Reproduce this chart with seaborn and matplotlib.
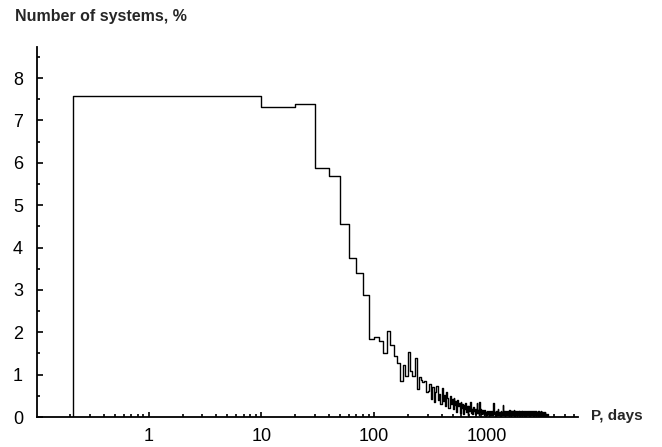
import numpy as np
import matplotlib
matplotlib.use("Agg")
import matplotlib.pyplot as plt
import seaborn as sns
from matplotlib.ticker import FixedLocator, LogLocator, NullFormatter

sns.set_style("ticks")
plt.rcParams['font.family'] = ['Liberation Sans', 'DejaVu Sans']

# histogram of orbital periods, 10-day bins (first bin starts at the left edge)
first_edge = 0.215
bin_width = 10

# percent of systems per bin, 0-300 days
pct_short = [7.57, 7.32, 7.39, 5.88, 5.69, 4.56, 3.75, 3.39, 2.89, 1.84,
             1.90, 1.79, 1.52, 2.02, 1.69, 1.45, 1.27, 0.85, 1.22, 0.96,
             1.53, 1.08, 0.97, 1.39, 0.66, 0.94, 0.88, 0.82, 0.84, 0.60]
# 300-1000 days
pct_mid = [0.62, 0.78, 0.42, 0.70, 0.36, 0.58, 0.72, 0.40, 0.55, 0.30,
           0.68, 0.38, 0.52, 0.25, 0.60, 0.45, 0.22, 0.50, 0.30, 0.42,
           0.20, 0.45, 0.28, 0.38, 0.12, 0.40, 0.25, 0.33, 0.10, 0.35,
           0.22, 0.30, 0.08, 0.28, 0.18, 0.32, 0.12, 0.25, 0.05, 0.27,
           0.15, 0.22, 0.35, 0.10, 0.20, 0.06, 0.24, 0.14, 0.18, 0.08,
           0.20, 0.12, 0.33, 0.10, 0.16, 0.05, 0.35, 0.12, 0.18, 0.08,
           0.15, 0.06, 0.17, 0.10, 0.14, 0.04, 0.16, 0.09, 0.12, 0.05]
# 1000-3500 days
pct_long = [0.12, 0.04, 0.15, 0.06, 0.10, 0.03, 0.14, 0.05, 0.11, 0.04,
            0.13, 0.06, 0.10, 0.04, 0.16, 0.33, 0.08, 0.12, 0.05, 0.10,
            0.03, 0.14, 0.06, 0.11, 0.04, 0.13, 0.20, 0.05, 0.09, 0.04,
            0.12, 0.05, 0.10, 0.03, 0.13, 0.06, 0.11, 0.04, 0.09, 0.28,
            0.10, 0.04, 0.14, 0.06, 0.12, 0.03, 0.15, 0.05, 0.10, 0.04,
            0.13, 0.06, 0.15, 0.04, 0.12, 0.05, 0.14, 0.03, 0.11, 0.06,
            0.16, 0.04, 0.12, 0.05, 0.13, 0.03, 0.15, 0.06, 0.11, 0.04,
            0.14, 0.05, 0.12, 0.04, 0.16, 0.06, 0.13, 0.03, 0.12, 0.05,
            0.15, 0.04, 0.13, 0.06, 0.11, 0.03, 0.14, 0.05, 0.12, 0.04,
            0.13, 0.05, 0.15, 0.04, 0.12, 0.06, 0.14, 0.03, 0.11, 0.05,
            0.12, 0.04, 0.14, 0.05, 0.13, 0.03, 0.12, 0.06, 0.15, 0.04,
            0.13, 0.05, 0.11, 0.04, 0.14, 0.06, 0.12, 0.03, 0.13, 0.05,
            0.14, 0.04, 0.12, 0.05, 0.11, 0.03, 0.13, 0.06, 0.12, 0.04,
            0.12, 0.05, 0.14, 0.04, 0.13, 0.05, 0.11, 0.03, 0.12, 0.06,
            0.13, 0.04, 0.12, 0.05, 0.14, 0.03, 0.11, 0.06, 0.13, 0.04,
            0.12, 0.05, 0.13, 0.04, 0.11, 0.06, 0.12, 0.03, 0.14, 0.05,
            0.11, 0.04, 0.13, 0.05, 0.12, 0.03, 0.11, 0.06, 0.12, 0.04,
            0.13, 0.05, 0.11, 0.04, 0.12, 0.05, 0.13, 0.03, 0.11, 0.05,
            0.12, 0.04, 0.12, 0.06, 0.11, 0.03, 0.12, 0.05, 0.13, 0.04,
            0.11, 0.05, 0.12, 0.04, 0.13, 0.03, 0.11, 0.05, 0.12, 0.04,
            0.12, 0.04, 0.11, 0.05, 0.12, 0.03, 0.13, 0.04, 0.11, 0.05,
            0.10, 0.04, 0.12, 0.03, 0.11, 0.05, 0.10, 0.04, 0.12, 0.03,
            0.11, 0.04, 0.10, 0.05, 0.12, 0.03, 0.10, 0.04, 0.11, 0.03,
            0.07, 0.03, 0.08, 0.02, 0.07, 0.04, 0.06, 0.02, 0.07, 0.03,
            0.06, 0.02, 0.07, 0.03, 0.06, 0.02, 0.05, 0.03, 0.06, 0.02]

x_ticks = [1, 10, 100, 1000]
x_tick_labels = ["1", "10", "100", "1000"]
y_ticks = [0, 1, 2, 3, 4, 5, 6, 7, 8]

pct = np.array(pct_short + pct_mid + pct_long)
edges = np.concatenate([[first_edge], np.arange(1, len(pct) + 1) * bin_width])

# step outline: rise at the first edge, drop to zero after the last bin
step_x = np.concatenate([[first_edge], edges])
step_y = np.concatenate([[0], pct, [0]])

fig = plt.figure(figsize=(6.62, 4.47), dpi=100)
ax = fig.add_axes([37 / 662, 30 / 447, 541 / 662, 370.3 / 447])

sns.lineplot(x=step_x, y=step_y, estimator=None, sort=False,
             drawstyle="steps-post", color="black", linewidth=1.0, ax=ax)

ax.set_xscale("log")
ax.set_xlim(0.102, 6500)
ax.set_ylim(0, 8.74)
sns.despine(ax=ax)
for side in ["left", "bottom"]:
    ax.spines[side].set_linewidth(1.3)
    ax.spines[side].set_color("black")

ax.xaxis.set_major_locator(FixedLocator(x_ticks))
ax.set_xticklabels(x_tick_labels)
ax.xaxis.set_minor_locator(LogLocator(base=10, subs=np.arange(2, 10), numticks=20))
ax.xaxis.set_minor_formatter(NullFormatter())
ax.set_yticks(y_ticks)
ax.yaxis.set_minor_locator(FixedLocator(np.arange(0.5, 8.6, 1.0)))

ax.tick_params(axis="both", which="both", direction="in", color="black",
               labelsize=13, labelcolor="black")
ax.tick_params(axis="y", which="major", length=4.5, width=1.2, pad=10)
ax.tick_params(axis="y", which="minor", length=2.5, width=1.2)
ax.tick_params(axis="x", which="major", length=3.5, width=1.2, pad=8)
ax.tick_params(axis="x", which="minor", length=2.0, width=1.2)
ax.set_xlabel("")
ax.set_ylabel("")

fig.text(15 / 662, 1 - 16 / 447, "Number of systems, %", fontsize=11.5,
         fontweight="bold", ha="left", va="center")
fig.text(591 / 662, 1 - 416 / 447, "P, days", fontsize=11,
         fontweight="bold", ha="left", va="center")

fig.savefig("out.png", dpi=100)
